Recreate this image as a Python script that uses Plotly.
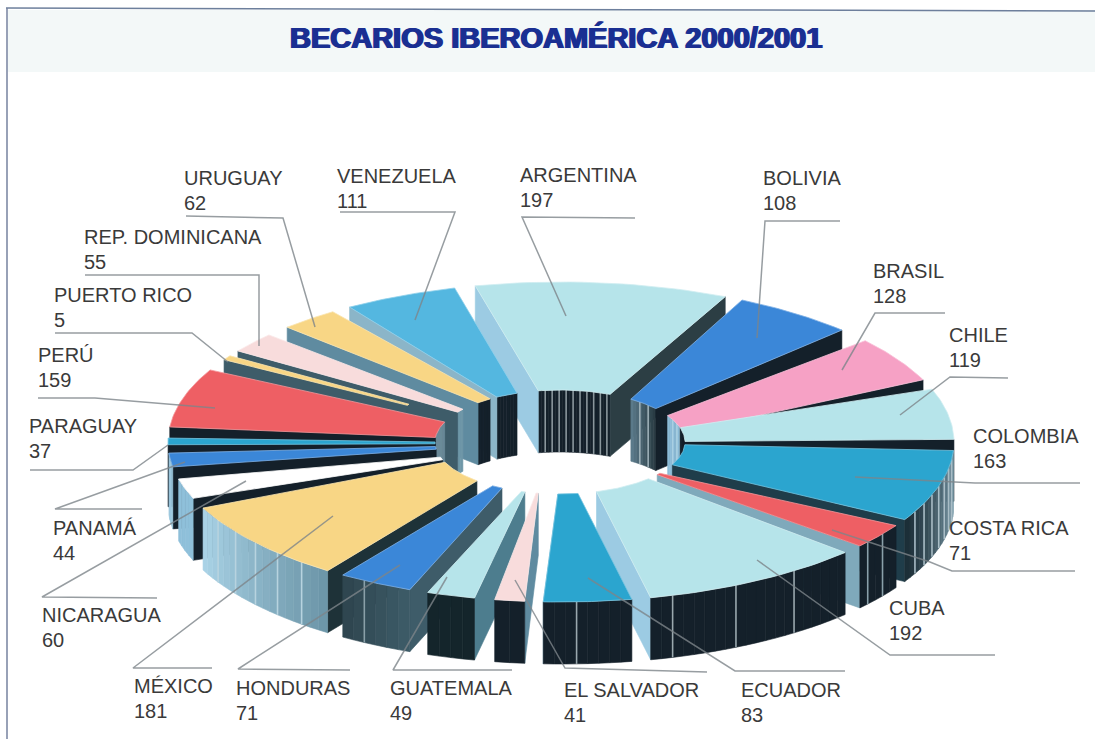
import math
import plotly.graph_objects as go

# ---------- data ----------
countries = ["ARGENTINA","BOLIVIA","BRASIL","CHILE","COLOMBIA","COSTA RICA","CUBA","ECUADOR","EL SALVADOR",
             "GUATEMALA","HONDURAS","MÉXICO","NICARAGUA","PANAMÁ","PARAGUAY","PERÚ","PUERTO RICO",
             "REP. DOMINICANA","URUGUAY","VENEZUELA"]
becarios = [197,108,128,119,163,71,192,83,41,49,71,181,60,44,37,159,5,55,62,111]
title_text = "BECARIOS IBEROAMÉRICA 2000/2001"

# ---------- style ----------
LB="#b6e4ea"; BL="#3b87d8"; PK="#f6a1c5"; TE="#2ba5cf"; RD="#ee5f64"; YE="#f8d685"; LP="#f8dcdc"; WH="#ffffff"; VE="#54b7e0"
K="#14202a"; ST="#3e5c69"; S2="#5f8ba0"; LS="#8fbdd9"; L2="#9ccbe3"; G="#9fb4bc"
top = [LB,BL,PK,LB,TE,RD,LB,TE,LP,LB,BL,YE,WH,BL,TE,RD,YE,LP,YE,VE]
wall_s=[L2,K,K,K,K,K,K,K,S2,"#4d7d8e",ST,"#1e3238",K,K,K,K,ST,ST,S2,"#8bb5c8"]
wall_e=["#2c3e44",K,K,K,"#1f3d4a","#7fa9bb",L2,L2,S2,S2,ST,S2,K,K,K,K,ST,ST,S2,"#8bb5c8"]
# curved walls: from colour, to colour, stripe colour, stripe spacing (0 = no stripes)
outer=[(K,K,G,4)]*20
outer[4]=("#7f9fae","#1c2f38","#a9bdc6",2); outer[5]=(K,K,"#8aa0aa",2); outer[6]=(K,K,"#9aa8ae",6)
outer[7]=(K,K,"#9aa8ae",5); outer[8]=(K,K,K,0); outer[9]=("#14252b","#14252b",K,0)
outer[10]=("#3c5a66","#2f4650","#8aa0a8",4); outer[11]=("#6d97a9","#a9d2e6","#b7d3df",3)
outer[12]=("#8fc0da","#8fc0da",K,0); outer[13]=("#9cc8dd","#9cc8dd",K,0); outer[14]=(L2,L2,K,0); outer[15]=(L2,L2,K,0)
inner=[(K,K,"#8a969c",2)]*20
inner[1]=("#5b7a8a","#2a3c44","#9db0b8",3); inner[2]=(LS,LS,"#a9cfe2",3); inner[3]=(K,K,K,0)
inner[15]=("#6c8c9a","#6c8c9a",K,0); inner[16]=(ST,ST,K,0); inner[17]=("#6f97a8","#6f97a8",K,0)
inner[18]=(K,K,K,0); inner[19]=(K,K,K,0)
# corner adjustments of each wedge, degrees relative to its value span
adj_os=[.4,3.8,7,3.2,3.4,1.55,.54,.75,1,.8,1.6,2.2,1.5,2,1.8,1.3,-2.7,.1,1,1.1]
adj_oe=[1.07,1.9,-.4,-.6,-.95,-2.66,-2.05,-1.7,-2.2,-1.2,-.5,-2.27,-2.4,-1.2,-2.7,-6.9,-2,-2.83,-1.86,-2.7]
adj_is=[3,10.9,15.7,6.5,3.4,7,1.84,2.85,5.7,4.4,6.6,7.4,2.1,3,.8,.9,-3.67,.4,4.2,3.3]
adj_ie=[0,6.3,11.5,.4,-3.95,-4.2,-5.85,-3.3,-.9,-3,-1.2,-.87,-6,-2.2,-4.1,-11,-3.6,-5.8,-.36,-7.1]
inner_scale=[1]*20; inner_scale[16]=1.41
CX,CY,AO,BO=561,442,393,160
CXI,AI,BI=560,125,52
DEPTH=62
START=-13.0
STEP=1.6

leaders=[[(635,218),(522,217),(566,316)],[(840,221),(765,221),(757,338)],[(945,313),(875,313),(842,370)],
 [(1008,378),(950,377),(900,415)],[(1080,483),(975,483),(855,477)],[(1075,571),(952,571),(930,562),(832,530)],
 [(995,655),(890,655),(757,560)],[(845,671),(735,671),(588,578)],[(707,672),(565,668),(515,580)],
 [(512,670),(393,670),(447,577)],[(350,670),(238,669),(400,565)],[(212,668),(133,668),(333,516)],
 [(157,598),(42,597),(246,481)],[(142,509),(55,509),(185,462)],[(30,470),(133,470),(168,445)],
 [(38,398),(95,398),(215,408)],[(55,333),(192,333),(228,362)],[(85,275),(259,275),(259,346)],
 [(186,216),(283,218),(315,327)],[(340,212),(455,212),(415,320)]]
label_xy=[(518,175),(761,178),(871,271),(947,335),(971,436),(947,528),(887,608),(739,690),(562,690),(388,688),
          (234,688),(132,686),(40,615),(51,528),(27,426),(36,355),(52,295),(82,237),(182,178),(335,176)]
LINE_GAP=25

# ---------- geometry from the values ----------
total=sum(becarios)
spans=[]; acc=START
for v in becarios:
    spans.append((acc,acc+v*360/total)); acc+=v*360/total

def po(i,t,z=0):
    r=math.radians(t); return (CX+AO*math.sin(r), CY-BO*math.cos(r)+z)
def pi_(i,t,z=0):
    r=math.radians(t); k=inner_scale[i]; return (CXI+AI*k*math.sin(r), CY-BI*k*math.cos(r)+z)

fig=go.Figure()
def poly(pts,fill,lw=0.6,lc=None):
    fig.add_trace(go.Scatter(x=[p[0] for p in pts]+[pts[0][0]],y=[p[1] for p in pts]+[pts[0][1]],mode="lines",
        fill="toself",fillcolor=fill,line=dict(color=lc or fill,width=lw),hoverinfo="skip",showlegend=False))
def hex2(c): return tuple(int(c[j:j+2],16) for j in (1,3,5))
def mix(a,b,f):
    A,B=hex2(a),hex2(b); return "#%02x%02x%02x"%tuple(round(A[k]+(B[k]-A[k])*f) for k in range(3))
def curved(i,s,e,fn,spec,vis):
    n=max(1,int((e-s)/STEP)); c1,c2,c3,k=spec
    for j in range(n):
        t0=s+(e-s)*j/n; t1=s+(e-s)*(j+1)/n
        if vis((t0+t1)/2):
            poly([fn(i,t0),fn(i,t1),fn(i,t1,DEPTH),fn(i,t0,DEPTH)],mix(c1,c2,j/max(1,n-1)))
    if k:
        for j in range(k,n,k):
            t=s+(e-s)*j/n
            if vis(t):
                a,b=fn(i,t),fn(i,t,DEPTH)
                fig.add_trace(go.Scatter(x=[a[0],b[0]],y=[a[1],b[1]],mode="lines",line=dict(color=c3,width=1.6),
                                         hoverinfo="skip",showlegend=False))

order=sorted(range(len(becarios)),key=lambda i:-math.cos(math.radians(sum(spans[i])/2)))
for i in order:
    os_=spans[i][0]+adj_os[i]; oe=spans[i][1]+adj_oe[i]
    is_=spans[i][0]+adj_is[i]; ie=spans[i][1]+adj_ie[i]
    curved(i,is_,ie,pi_,inner[i],lambda t:math.cos(math.radians(t))>0)
    if math.sin(math.radians(os_))<0.1:
        poly([po(i,os_),pi_(i,is_),pi_(i,is_,DEPTH),po(i,os_,DEPTH)],wall_s[i])
    if math.sin(math.radians(oe))>-0.1:
        poly([po(i,oe),pi_(i,ie),pi_(i,ie,DEPTH),po(i,oe,DEPTH)],wall_e[i])
    curved(i,os_,oe,po,outer[i],lambda t:math.cos(math.radians(t))<0)
    n=24
    pts=[po(i,os_+(oe-os_)*j/n) for j in range(n+1)]+[pi_(i,ie+(is_-ie)*j/n) for j in range(n+1)]
    poly(pts,top[i],0.8,mix(top[i],"#ffffff",0.35))

for pl in leaders:
    fig.add_trace(go.Scatter(x=[p[0] for p in pl],y=[p[1] for p in pl],mode="lines",
        line=dict(color="rgba(125,132,138,0.8)",width=1.5),hoverinfo="skip",showlegend=False))

ann=[]
for (x,y),name,v in zip(label_xy,countries,becarios):
    for txt,yy in ((name,y),(str(v),y+LINE_GAP)):
        ann.append(dict(x=x,y=yy,text=txt,xref="x",yref="y",xanchor="left",yanchor="middle",showarrow=False,
                        font=dict(family="Liberation Sans",size=20,color="#3a3a3a")))
ann.append(dict(x=555.5,y=37,text="<b>%s</b>"%title_text,xref="x",yref="y",xanchor="center",yanchor="middle",showarrow=False,
                font=dict(family="Liberation Sans",size=29,color="#1a2f92",shadow="1px 0 0 #1a2f92, -1px 0 0 #1a2f92")))

shapes=[dict(type="rect",x0=8,x1=1095,y0=10,y1=72,fillcolor="#f3f8f8",line=dict(width=0),layer="below"),
        dict(type="line",x0=6,x1=1095,y0=8,y1=11,line=dict(color="#6d7f9c",width=1.5),layer="below"),
        dict(type="line",x0=7,x1=7,y0=8,y1=739,line=dict(color="#76829f",width=1.5),layer="below")]
fig.update_layout(width=1095,height=739,margin=dict(l=0,r=0,t=0,b=0),paper_bgcolor="white",plot_bgcolor="white",
    xaxis=dict(range=[0,1095],visible=False,fixedrange=True),yaxis=dict(range=[739,0],visible=False,fixedrange=True),
    annotations=ann,shapes=shapes,showlegend=False)
fig.write_html("out.html",config=dict(displayModeBar=False),
    post_script="document.body.style.margin='0';document.documentElement.style.overflow='hidden';")
